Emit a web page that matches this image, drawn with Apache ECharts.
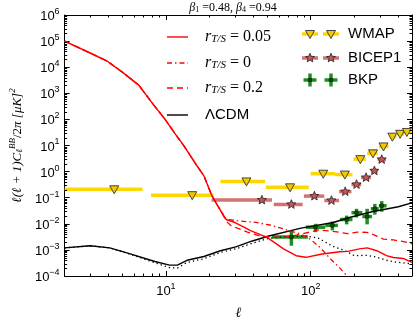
<!DOCTYPE html>
<html>
<head>
<meta charset="utf-8">
<script src="https://cdn.jsdelivr.net/npm/echarts@6/dist/echarts.min.js"></script>
<style>
html, body { margin: 0; padding: 0; background: #fff; }
#chart { width: 415px; height: 325px; }
</style>
</head>
<body>
<div id="chart"></div>
<script>
// r_T/S = 0.05 (red solid)
const ellR005 = [2, 3, 3.9, 5, 6.5, 8.2, 9.85, 11.5, 13.4, 16.4, 18.3, 20.7, 22.5, 24.1, 26.1, 30, 34, 38.4, 49.9, 64.9, 79.3, 92.5, 120, 159, 180, 217, 245, 286, 333, 372, 434, 500];
const dR005 = [1e5, 3.5e4, 1.76e4, 6.5e3, 2.05e3, 370, 102, 30, 9.2, 1.65, 0.69, 0.125, 0.055, 0.029, 0.0146, 0.0112, 0.0078, 0.0055, 0.0030, 0.0011, 0.0006, 0.00052, 0.0007, 0.00085, 0.00088, 0.0011, 0.0012, 0.00093, 0.0006, 0.00051, 0.00047, 0.00033];
// r_T/S = 0 (red dash-dot)
const ellR0 = [2, 3, 3.9, 5, 6.5, 8.2, 9.85, 11.5, 13.4, 16.4, 18.3, 20.7, 22.5, 24.1, 26.1, 31.4, 40.8, 52.3, 65.9, 85.7, 100, 116.7, 136, 159, 185];
const dR0 = [1e5, 3.5e4, 1.76e4, 6.5e3, 2.05e3, 370, 102, 30, 9.2, 1.65, 0.69, 0.125, 0.055, 0.029, 0.015, 0.013, 0.0115, 0.009, 0.0062, 0.0040, 0.0025, 0.0012, 0.00047, 0.0002, 0.00008];
// r_T/S = 0.2 (red dashed)
const ellR02 = [2, 3, 3.9, 5, 6.5, 8.2, 9.85, 11.5, 13.4, 16.4, 18.3, 20.7, 22.5, 24.1, 26.3, 28.2, 31.4, 36.6, 44.8, 55.6, 68, 85.7, 113, 141, 180, 210, 245, 286, 318, 372, 455, 500];
const dR02 = [1e5, 3.5e4, 1.76e4, 6.5e3, 2.05e3, 370, 102, 30, 9.2, 1.65, 0.69, 0.125, 0.055, 0.029, 0.012, 0.0085, 0.0067, 0.0048, 0.0034, 0.0031, 0.0031, 0.0040, 0.0058, 0.0052, 0.0042, 0.0048, 0.0047, 0.0034, 0.0026, 0.0024, 0.0020, 0.0017];
// LambdaCDM (black solid)
const ellLcdm = [2, 3, 4.1, 5.6, 8.4, 10.6, 12, 14, 18.3, 23.8, 30.4, 39.5, 51.4, 85.7, 143, 185, 265, 402, 500];
const dLcdm = [0.0012, 0.00144, 0.0012, 0.00072, 0.00036, 0.00026, 0.00026, 0.0004, 0.00056, 0.00093, 0.0013, 0.0022, 0.0034, 0.0068, 0.0112, 0.0174, 0.029, 0.045, 0.063];
// black dotted
const ellDot = [2, 3, 4.1, 5.6, 8.4, 10.6, 12, 14, 18.3, 23.8, 30.4, 39.5, 51.4, 77, 92.5, 113, 141, 173, 200, 245, 286, 333, 390, 480, 500];
const dDot = [0.0012, 0.00143, 0.0012, 0.0007, 0.00032, 0.00021, 0.0002, 0.00033, 0.00046, 0.0008, 0.0011, 0.0018, 0.0028, 0.0034, 0.0034, 0.0028, 0.0014, 0.00093, 0.0006, 0.00062, 0.00052, 0.0004, 0.00034, 0.0003, 0.00028];

// WMAP bandpowers
const wmapEll = [4.4, 15.2, 36, 72, 122, 172, 220, 269, 318, 366, 414, 461];
const wmapLo = [2, 7.9, 23.8, 49, 100, 147, 197, 245, 295, 350, 392, 440];
const wmapHi = [6.9, 21.3, 48.4, 97, 147, 194, 240, 290, 345, 390, 440, 500];
const wmapVal = [0.21, 0.125, 0.42, 0.25, 0.83, 0.77, 3.0, 5.0, 9.2, 21.8, 28, 33];
// BICEP1 bandpowers
const bicepEll = [46, 73.5, 106, 139, 173, 207, 241, 275, 309];
const bicepLo = [20.7, 55.6, 89.7, 124, 157, 191, 223, 260, 290];
const bicepHi = [54, 88, 124, 157, 191, 223, 260, 290, 330];
const bicepVal = [0.081, 0.055, 0.115, 0.078, 0.17, 0.32, 0.59, 1.07, 2.9];
// BKP bandpowers
const bkpEll = [73.5, 108, 141, 177, 207, 245, 277, 309];
const bkpXLo = [54, 92.5, 126, 159, 191, 227, 260, 295];
const bkpXHi = [95.5, 126, 154, 194, 227, 265, 295, 334];
const bkpVal = [0.0031, 0.0074, 0.0087, 0.0146, 0.0267, 0.019, 0.0375, 0.049];
const bkpYLo = [0.00144, 0.0048, 0.0056, 0.0095, 0.0174, 0.0095, 0.0224, 0.029];
const bkpYHi = [0.0052, 0.0100, 0.0123, 0.0206, 0.0375, 0.0375, 0.058, 0.074];

// minor tick positions
const xMinor = [3, 4, 5, 6, 7, 8, 9, 20, 30, 40, 50, 60, 70, 80, 90, 200, 300, 400];
const yMantissa = [2, 3, 4, 5, 6, 7, 8, 9];
const yDecades = [-4, -3, -2, -1, 0, 1, 2, 3, 4, 5];

const YELLOW = '#ffd700';
const PINK = '#d47272';
const GREEN = '#1f8f1f';

function zip(a, b) {
    return a.map((v, i) => [v, b[i]]);
}

function triangle(cx, cy) {
    return {
        type: 'polygon',
        shape: { points: [[cx - 4.5, cy - 3.5], [cx + 4.5, cy - 3.5], [cx, cy + 4.5]] },
        style: { fill: '#f2c800', stroke: '#333', lineWidth: 0.9 }
    };
}

function star(cx, cy) {
    const pts = [];
    for (let i = 0; i < 10; i++) {
        const r = i % 2 ? 2.1 : 4.8;
        const a = -Math.PI / 2 + i * Math.PI / 5;
        pts.push([cx + r * Math.cos(a), cy + r * Math.sin(a)]);
    }
    return {
        type: 'polygon',
        shape: { points: pts },
        style: { fill: '#c85555', stroke: '#222', lineWidth: 0.8 }
    };
}

function hbar(x1, x2, y, color) {
    return { type: 'line', shape: { x1: x1, y1: y, x2: x2, y2: y }, style: { stroke: color, lineWidth: 3.5 } };
}

function vbar(x, y1, y2, color) {
    return { type: 'line', shape: { x1: x, y1: y1, x2: x, y2: y2 }, style: { stroke: color, lineWidth: 3.5 } };
}

function dot(cx, cy) {
    return { type: 'circle', shape: { cx: cx, cy: cy, r: 2 }, style: { fill: '#0b4f0b', stroke: '#000', lineWidth: 0.5 } };
}

function xErrRender(color, marker) {
    return function (params, api) {
        const p = api.coord([api.value(0), api.value(1)]);
        const a = api.coord([api.value(2), api.value(1)]);
        const b = api.coord([api.value(3), api.value(1)]);
        return { type: 'group', children: [hbar(a[0], b[0], p[1], color), marker(p[0], p[1])] };
    };
}

function bkpRender(params, api) {
    const p = api.coord([api.value(0), api.value(1)]);
    const a = api.coord([api.value(2), api.value(1)]);
    const b = api.coord([api.value(3), api.value(1)]);
    const lo = api.coord([api.value(0), api.value(4)]);
    const hi = api.coord([api.value(0), api.value(5)]);
    return {
        type: 'group',
        children: [hbar(a[0], b[0], p[1], GREEN), vbar(p[0], lo[1], hi[1], GREEN), dot(p[0], p[1])]
    };
}

function xTickRender(params, api) {
    const cs = params.coordSys;
    const x = Math.round(api.coord([api.value(0), 1])[0]) + 0.5;
    const b = cs.y + cs.height, t = cs.y;
    return {
        type: 'group', children: [
            { type: 'line', shape: { x1: x, y1: b, x2: x, y2: b - 2.5 }, style: { stroke: '#000', lineWidth: 1 } },
            { type: 'line', shape: { x1: x, y1: t, x2: x, y2: t + 2.5 }, style: { stroke: '#000', lineWidth: 1 } }
        ]
    };
}

function yTickRender(params, api) {
    const cs = params.coordSys;
    const y = Math.round(api.coord([10, api.value(1)])[1]) + 0.5;
    const l = cs.x, r = cs.x + cs.width;
    return {
        type: 'group', children: [
            { type: 'line', shape: { x1: l, y1: y, x2: l + 2.5, y2: y }, style: { stroke: '#000', lineWidth: 1 } },
            { type: 'line', shape: { x1: r, y1: y, x2: r - 2.5, y2: y }, style: { stroke: '#000', lineWidth: 1 } }
        ]
    };
}

function powLabel(v) {
    const e = Math.log10(v);
    const n = Math.round(e);
    if (Math.abs(e - n) > 1e-6) return '';
    return '{b|10}{s|' + String(n).replace('-', '\u2212') + '}';
}

const labelRich = {
    b: { fontFamily: 'Liberation Sans', fontSize: 13, color: '#000', verticalAlign: 'bottom' },
    s: { fontFamily: 'Liberation Sans', fontSize: 9, color: '#000', padding: [0, 0, 7, 0], verticalAlign: 'bottom' }
};

const yMinor = [];
yDecades.forEach(d => yMantissa.forEach(m => yMinor.push([10, m * Math.pow(10, d)])));

function axisBase(extra) {
    return Object.assign({
        type: 'log',
        logBase: 10,
        axisLine: { show: true, onZero: false, lineStyle: { color: '#000', width: 1 } },
        axisTick: { show: true, inside: true, length: 5, lineStyle: { color: '#000' } },
        splitLine: { show: false },
        minorTick: { show: false }
    }, extra);
}

const mathRich = {
    r: { fontFamily: 'Liberation Serif', fontStyle: 'italic', fontSize: 16, fill: '#000' },
    s: { fontFamily: 'Liberation Serif', fontStyle: 'italic', fontSize: 11, fill: '#000', padding: [5, 0, 0, 0], verticalAlign: 'bottom' },
    n: { fontFamily: 'Liberation Serif', fontSize: 16, fill: '#000', verticalAlign: 'bottom' }
};

const legendGraphics = [];
function legendLine(y, dash, color, label) {
    legendGraphics.push({ type: 'line', shape: { x1: 167, y1: y, x2: 188, y2: y }, style: { stroke: color, lineWidth: 1.4, lineDash: dash } });
    legendGraphics.push({ type: 'text', x: 205, y: y, style: label });
}
legendLine(37, null, '#f00', { text: '{r|r}{s|T/S}{n| = 0.05}', rich: mathRich, verticalAlign: 'middle' });
legendLine(63, [5, 3, 1.5, 3], '#f00', { text: '{r|r}{s|T/S}{n| = 0}', rich: mathRich, verticalAlign: 'middle' });
legendLine(88, [6, 4], '#f00', { text: '{r|r}{s|T/S}{n| = 0.2}', rich: mathRich, verticalAlign: 'middle' });
legendLine(115, null, '#000', { text: '\u039bCDM', fontFamily: 'Liberation Sans', fontSize: 15, fill: '#000', verticalAlign: 'middle' });

[[34, 'WMAP'], [58, 'BICEP1'], [80, 'BKP']].forEach(([y, name], k) => {
    [310, 331].forEach(cx => {
        if (k === 0) {
            legendGraphics.push(hbar(cx - 8, cx + 8, y, YELLOW), triangle(cx, y));
        } else if (k === 1) {
            legendGraphics.push(hbar(cx - 8, cx + 8, y, PINK), star(cx, y));
        } else {
            legendGraphics.push(hbar(cx - 6.5, cx + 6.5, y, GREEN), vbar(cx, y - 6.5, y + 6.5, GREEN), dot(cx, y));
        }
    });
    legendGraphics.push({ type: 'text', x: 348, y: y, style: { text: name, fontFamily: 'Liberation Sans', fontSize: 15, fill: '#000', verticalAlign: 'middle' } });
});

legendGraphics.push({
    type: 'text', x: 233, y: 8,
    style: {
        text: '{m|\u03b2}{s|1}{n| =0.48, }{m|\u03b2}{s|4}{n| =0.94}',
        align: 'center', verticalAlign: 'middle',
        rich: {
            m: { fontFamily: 'Liberation Serif', fontStyle: 'italic', fontSize: 12, fill: '#000', verticalAlign: 'bottom' },
            s: { fontFamily: 'Liberation Serif', fontSize: 8, fill: '#000', padding: [3, 0, 0, 0], verticalAlign: 'bottom' },
            n: { fontFamily: 'Liberation Serif', fontSize: 12, fill: '#000', verticalAlign: 'bottom' }
        }
    }
});

const lineDefaults = { type: 'line', showSymbol: false, symbol: 'none', smooth: false, z: 3, animation: false };

const option = {
    animation: false,
    backgroundColor: '#fff',
    grid: { left: 57, top: 15, width: 355, height: 268, containLabel: false },
    xAxis: [
        axisBase({
            min: 2, max: 500, position: 'bottom',
            axisLabel: { formatter: powLabel, rich: labelRich, margin: 6 },
            name: '\u2113', nameLocation: 'middle', nameGap: 30,
            nameTextStyle: { fontFamily: 'Liberation Serif', fontStyle: 'italic', fontSize: 14, color: '#000' }
        }),
        axisBase({ min: 2, max: 500, position: 'top', axisLabel: { show: false } })
    ],
    yAxis: [
        axisBase({
            min: 1e-4, max: 1e6, splitNumber: 10, position: 'left',
            axisLabel: { formatter: powLabel, rich: labelRich, margin: 5 },
            name: '{m|\u2113(\u2113 + 1)C}{b|\u2113}{p|BB}{n|/2}{m|\u03c0 [\u03bcK]}{p|2}',
            nameLocation: 'middle', nameGap: 37,
            nameTextStyle: {
                color: '#000',
                rich: {
                    m: { fontFamily: 'Liberation Serif', fontStyle: 'italic', fontSize: 13, color: '#000', verticalAlign: 'bottom' },
                    n: { fontFamily: 'Liberation Serif', fontSize: 13, color: '#000', verticalAlign: 'bottom' },
                    p: { fontFamily: 'Liberation Serif', fontStyle: 'italic', fontSize: 9, color: '#000', padding: [0, 0, 7, 0], verticalAlign: 'bottom' },
                    b: { fontFamily: 'Liberation Serif', fontStyle: 'italic', fontSize: 9, color: '#000', padding: [4, 0, 0, 0], verticalAlign: 'bottom' }
                }
            }
        }),
        axisBase({ min: 1e-4, max: 1e6, splitNumber: 10, position: 'right', axisLabel: { show: false } })
    ],
    graphic: legendGraphics,
    series: [
        { type: 'custom', renderItem: xTickRender, data: xMinor.map(v => [v, 1]), z: 5, silent: true },
        { type: 'custom', renderItem: yTickRender, data: yMinor, z: 5, silent: true },
        {
            type: 'custom', renderItem: xErrRender(YELLOW, triangle), z: 2,
            data: wmapEll.map((v, i) => [v, wmapVal[i], wmapLo[i], wmapHi[i]])
        },
        {
            type: 'custom', renderItem: xErrRender(PINK, star), z: 2,
            data: bicepEll.map((v, i) => [v, bicepVal[i], bicepLo[i], bicepHi[i]])
        },
        {
            type: 'custom', renderItem: bkpRender, z: 2,
            data: bkpEll.map((v, i) => [v, bkpVal[i], bkpXLo[i], bkpXHi[i], bkpYLo[i], bkpYHi[i]])
        },
        Object.assign({}, lineDefaults, { name: 'lcdm', data: zip(ellLcdm, dLcdm), lineStyle: { color: '#000', width: 1.4 } }),
        Object.assign({}, lineDefaults, { name: 'dot', data: zip(ellDot, dDot), lineStyle: { color: '#000', width: 1.3, type: [1.3, 3] } }),
        Object.assign({}, lineDefaults, { name: 'r0', data: zip(ellR0, dR0), lineStyle: { color: '#f00', width: 1.3, type: [5, 3, 1.5, 3] } }),
        Object.assign({}, lineDefaults, { name: 'r02', data: zip(ellR02, dR02), lineStyle: { color: '#f00', width: 1.3, type: [6, 4] } }),
        Object.assign({}, lineDefaults, { name: 'r005', data: zip(ellR005, dR005), lineStyle: { color: '#f00', width: 1.4 } })
    ]
};

const chart = echarts.init(document.getElementById('chart'));
chart.setOption(option);
</script>
</body>
</html>
